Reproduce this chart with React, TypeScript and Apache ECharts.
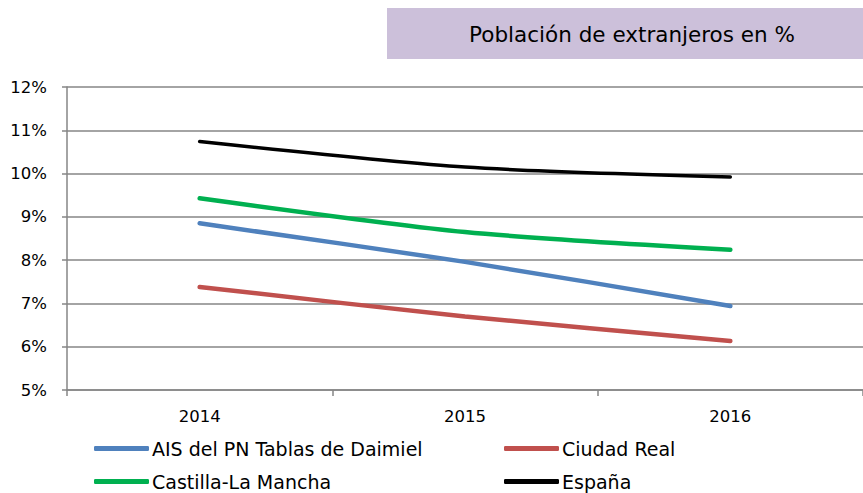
import React, { useEffect, useRef } from "react";
import * as echarts from "echarts";

const years = ["2014", "2015", "2016"];
const yTicks = [5, 6, 7, 8, 9, 10, 11, 12];
const seriesNames = ["AIS del PN Tablas de Daimiel", "Ciudad Real", "Castilla-La Mancha", "España"];
const aisValues = [8.85, 7.96, 6.94];
const ciudadRealValues = [7.38, 6.70, 6.13];
const castillaValues = [9.43, 8.65, 8.24];
const espanaValues = [10.74, 10.15, 9.92];
const colors = ["#4F81BD", "#C0504D", "#00B050", "#000000"];
const title = "Población de extranjeros en %";

export default function App() {
  const ref = useRef<HTMLDivElement>(null);
  useEffect(() => {
    if (!ref.current) return;
    const chart = echarts.init(ref.current, null, { renderer: "svg" });
    const font = "'DejaVu Sans', 'Liberation Sans', Arial, sans-serif";
    const data = [aisValues, ciudadRealValues, castillaValues, espanaValues];
    const legendPos = [
      { left: 94, top: 439 },
      { left: 504, top: 439 },
      { left: 94, top: 472 },
      { left: 504, top: 472 },
    ];
    chart.setOption({
      animation: false,
      backgroundColor: "#ffffff",
      textStyle: { fontFamily: font },
      graphic: [
        {
          type: "rect",
          shape: { x: 387, y: 8, width: 476, height: 51 },
          style: { fill: "#CCC0DA" },
          silent: true,
        },
        {
          type: "text",
          x: 632,
          y: 34,
          style: {
            text: title,
            fontSize: 21.5,
            fontFamily: font,
            fill: "#000000",
            align: "center",
            verticalAlign: "middle",
          },
          silent: true,
        },
      ],
      legend: seriesNames.map((name, i) => ({
        data: [name],
        left: legendPos[i].left,
        top: legendPos[i].top,
        icon: "roundRect",
        itemWidth: 55,
        itemHeight: 5,
        itemGap: 4,
        padding: 0,
        textStyle: { fontSize: 19, color: "#000", fontFamily: font, padding: [0, 0, 0, -2] },
      })),
      grid: { left: 67, top: 87, width: 800, height: 303 },
      xAxis: {
        type: "category",
        data: years,
        boundaryGap: true,
        axisLine: { lineStyle: { color: "#868686", width: 1.5 } },
        axisTick: { show: true, length: 6, lineStyle: { color: "#868686", width: 1.5 } },
        axisLabel: { fontSize: 16.5, color: "#000", margin: 18, fontFamily: font },
      },
      yAxis: {
        type: "value",
        min: yTicks[0],
        max: yTicks[yTicks.length - 1],
        interval: 1,
        axisLine: { show: true, lineStyle: { color: "#868686", width: 1.5 } },
        axisTick: { show: true, length: 5, lineStyle: { color: "#868686", width: 1.5 } },
        splitLine: { lineStyle: { color: "#868686", width: 1.5 } },
        axisLabel: { fontSize: 16.5, color: "#000", margin: 20, formatter: "{value}%", fontFamily: font },
      },
      series: seriesNames.map((name, i) => ({
        name,
        type: "line",
        data: data[i],
        smooth: 0.25,
        showSymbol: false,
        symbol: "none",
        color: colors[i],
        lineStyle: { color: colors[i], width: i === 3 ? 3.5 : 4.5, cap: "round" },
        itemStyle: { color: colors[i] },
      })),
    });
    return () => chart.dispose();
  }, []);
  return (
    <div
      ref={ref}
      style={{ position: "fixed", left: 0, top: 0, width: 863, height: 493 }}
    />
  );
}
